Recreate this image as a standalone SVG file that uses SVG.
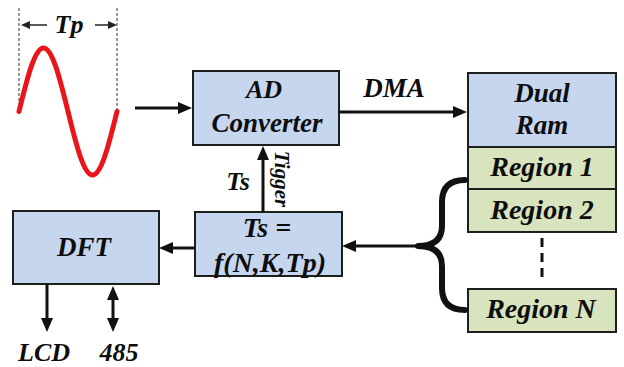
<svg xmlns="http://www.w3.org/2000/svg" width="624" height="367" viewBox="0 0 624 367">
  <style>
    .blk { fill: #c6d6ee; stroke: #1e1e1e; stroke-width: 2; }
    .reg { fill: #d8e4be; stroke: #1e1e1e; stroke-width: 2; }
    .lbl { font-family: 'Liberation Serif', 'Times New Roman', serif; font-weight: 700; font-style: italic; fill: #0d0d0d; text-anchor: middle; }
    .s21 { font-size: 21px; }
    .s26 { font-size: 26px; }
    .s27 { font-size: 27px; }
    .s28 { font-size: 28px; }
    .wire { fill: none; stroke: #111; stroke-width: 3; }
    .thin { fill: none; stroke: #222; stroke-width: 1.5; }
    .guide { fill: none; stroke: #333; stroke-width: 1; stroke-dasharray: 3 2; }
  </style>
  <defs>
    <marker id="head" viewBox="0 0 14 12" markerWidth="14" markerHeight="12" refX="3" refY="6" orient="auto" markerUnits="userSpaceOnUse">
      <path d="M0,0 L14,6 L0,12 z" fill="#111"/>
    </marker>
    <marker id="headStart" viewBox="0 0 14 12" markerWidth="14" markerHeight="12" refX="11" refY="6" orient="auto" markerUnits="userSpaceOnUse">
      <path d="M14,0 L0,6 L14,12 z" fill="#111"/>
    </marker>
    <marker id="tiny" viewBox="0 0 9 8" markerWidth="9" markerHeight="8" refX="2" refY="4" orient="auto" markerUnits="userSpaceOnUse">
      <path d="M0,0 L9,4 L0,8 z" fill="#222"/>
    </marker>
  </defs>

  <!-- input signal with its period marker -->
  <g id="signal">
    <line class="guide" x1="19" y1="8" x2="19" y2="112"/>
    <line class="guide" x1="117" y1="8" x2="117" y2="112"/>
    <line class="thin" x1="47" y1="25" x2="28" y2="25" marker-end="url(#tiny)"/>
    <line class="thin" x1="95" y1="25" x2="110" y2="25" marker-end="url(#tiny)"/>
    <text class="lbl s26" x="69" y="33">Tp</text>
    <path d="M19,111.5 C26.99,78.97 34.63,48 43.5,48 C52.37,48 60.01,78.97 68,111.5 C75.99,144.03 83.63,175 92.5,175 C101.37,175 109.01,144.03 117,111.5" fill="none" stroke="#e8151b" stroke-width="5" stroke-linecap="round"/>
  </g>

  <g id="ad-converter">
    <rect class="blk" x="193" y="71" width="146" height="74"/>
    <text class="lbl s26" x="264" y="98">AD</text>
    <text class="lbl s27" x="267" y="132">Converter</text>
  </g>

  <g id="dual-ram">
    <rect class="blk" x="468" y="73" width="148" height="74"/>
    <text class="lbl s27" x="542" y="102">Dual</text>
    <text class="lbl s27" x="542" y="134">Ram</text>
  </g>

  <g id="region-1">
    <rect class="reg" x="468" y="147" width="148" height="42"/>
    <text class="lbl s28" x="542" y="176">Region 1</text>
  </g>

  <g id="region-2">
    <rect class="reg" x="468" y="189" width="148" height="43"/>
    <text class="lbl s28" x="542" y="219">Region 2</text>
  </g>

  <g id="region-n">
    <rect class="reg" x="468" y="289" width="148" height="43"/>
    <text class="lbl s28" x="541" y="318">Region N</text>
  </g>

  <g id="ts-calc">
    <rect class="blk" x="195" y="212" width="147" height="64"/>
    <text class="lbl s28" x="267" y="237">Ts =</text>
    <text class="lbl s28" x="270" y="272">f(N,K,Tp)</text>
  </g>

  <g id="dft">
    <rect class="blk" x="13" y="211" width="146" height="73"/>
    <text class="lbl s27" x="84" y="256">DFT</text>
  </g>

  <g id="connectors">
    <line class="wire" x1="135" y1="108" x2="181" y2="108" marker-end="url(#head)"/>
    <line class="wire" x1="339" y1="112" x2="456" y2="112" marker-end="url(#head)"/>
    <text class="lbl s27" x="394" y="97">DMA</text>

    <line class="wire" x1="263" y1="212" x2="263" y2="157" marker-end="url(#head)"/>
    <text class="lbl s26" x="238" y="190">Ts</text>
    <text class="lbl s21" transform="translate(275,179) rotate(90)">Tigger</text>

    <!-- brace gathering the regions -->
    <path d="M465,180 Q442,180 442,202 L442,226 Q442,246 418,246 Q442,246 442,266 L442,288 Q442,310 465,310" fill="none" stroke="#111" stroke-width="6" stroke-linecap="round" stroke-linejoin="round"/>
    <line class="wire" x1="418" y1="246" x2="353" y2="246" marker-end="url(#head)"/>
    <line x1="542" y1="238" x2="542" y2="283" stroke="#111" stroke-width="3" stroke-dasharray="9 6"/>

    <line class="wire" x1="195" y1="248" x2="170" y2="248" marker-end="url(#head)"/>

    <line class="wire" x1="47" y1="284" x2="47" y2="321" marker-end="url(#head)"/>
    <line class="wire" x1="113" y1="297" x2="113" y2="321" marker-start="url(#headStart)" marker-end="url(#head)"/>
    <text class="lbl s26" x="44" y="361">LCD</text>
    <text class="lbl s26" x="119" y="361">485</text>
  </g>
</svg>
